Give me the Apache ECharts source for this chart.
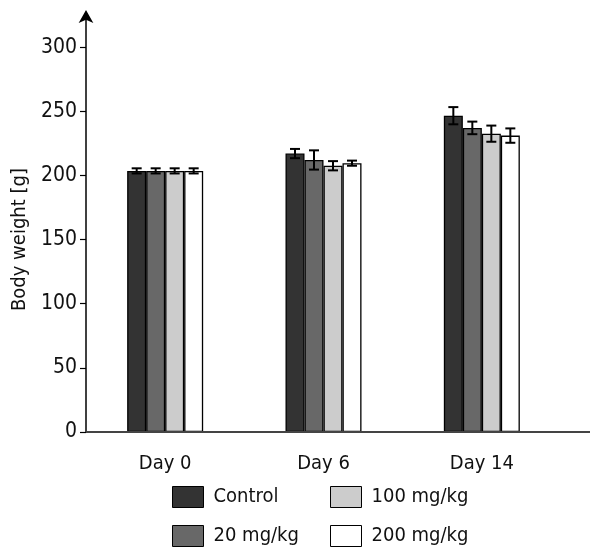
<!DOCTYPE html>
<html>
<head>
<meta charset="utf-8">
<script src="https://cdn.jsdelivr.net/npm/echarts@6/dist/echarts.min.js"></script>
<style>
html,body{margin:0;padding:0;background:#fff;}
#chart{width:590px;height:549px;}
</style>
</head>
<body>
<div id="chart"></div>
<script>
const categories = ['Day 0', 'Day 6', 'Day 14'];
const seriesNames = ['Control', '20 mg/kg', '100 mg/kg', '200 mg/kg'];
const controlMean = [203.5, 217, 246.5];
const controlErr = [2, 3.6, 6.7];
const mg20Mean = [203.5, 212, 237];
const mg20Err = [2, 7.5, 4.9];
const mg100Mean = [203.5, 207.5, 232.5];
const mg100Err = [2, 3.6, 6.3];
const mg200Mean = [203.5, 209.5, 231];
const mg200Err = [2, 2, 5.6];
const yTicks = [0, 50, 100, 150, 200, 250, 300];

const means = [controlMean, mg20Mean, mg100Mean, mg200Mean];
const errs = [controlErr, mg20Err, mg100Err, mg200Err];
const colors = ['#333333', '#686868', '#cccccc', '#ffffff'];
const FONT = "'DejaVu Sans Condensed', 'Liberation Sans Narrow', 'Roboto', sans-serif";
const BAR_W = 19;

const chart = echarts.init(document.getElementById('chart'), null, {renderer: 'canvas'});

const barSeries = seriesNames.map((name, i) => ({
  name: name,
  type: 'bar',
  barWidth: BAR_W,
  barGap: '0%',
  data: means[i],
  itemStyle: {color: colors[i], borderColor: '#000', borderWidth: 1.3},
  emphasis: {disabled: true},
  z: 2
}));

const errSeries = seriesNames.map((name, i) => ({
  type: 'custom',
  name: name + ' err',
  data: means[i].map((m, k) => [k, m, errs[i][k]]),
  encode: {x: 0, y: 1},
  z: 5,
  silent: true,
  renderItem: function (params, api) {
    const k = api.value(0), m = api.value(1), e = api.value(2);
    const off = (i - 1.5) * BAR_W;
    const top = api.coord([k, m + e]);
    const bot = api.coord([k, m - e]);
    const x = top[0] + off;
    const half = 5;
    const st = {stroke: '#000', lineWidth: 2};
    return {
      type: 'group',
      children: [
        {type: 'line', shape: {x1: x, y1: top[1], x2: x, y2: bot[1]}, style: st},
        {type: 'line', shape: {x1: x - half, y1: top[1], x2: x + half, y2: top[1]}, style: st},
        {type: 'line', shape: {x1: x - half, y1: bot[1], x2: x + half, y2: bot[1]}, style: st}
      ]
    };
  }
}));

function legendItem(name, left, top) {
  return {
    orient: 'horizontal',
    left: left,
    top: top,
    padding: 0,
    itemWidth: 31,
    itemHeight: 21,
    icon: 'rect',
    selectedMode: false,
    data: [name],
    textStyle: {fontFamily: FONT, fontSize: 20, color: '#111', padding: [0, 0, 0, 5]},
    itemStyle: {borderColor: '#000', borderWidth: 1}
  };
}

chart.setOption({
  animation: false,
  backgroundColor: '#fff',
  grid: {left: 86, top: 16, width: 475, bottom: 117, containLabel: false},
  legend: [
    legendItem('Control', 172, 486),
    legendItem('20 mg/kg', 172, 525),
    legendItem('100 mg/kg', 330, 486),
    legendItem('200 mg/kg', 330, 525)
  ],
  xAxis: {
    type: 'category',
    data: categories,
    axisLine: {show: false},
    axisTick: {show: false},
    axisLabel: {fontFamily: FONT, fontSize: 20, color: '#111', margin: 22}
  },
  yAxis: {
    type: 'value',
    min: 0,
    max: 324.2,
    splitLine: {show: false},
    axisLine: {show: true, lineStyle: {color: '#000', width: 1.5}, symbol: ['none', 'arrow'], symbolSize: [11, 13], symbolOffset: [0, 6]},
    axisTick: {show: true, length: 6, lineStyle: {color: '#000', width: 1.2}, customValues: yTicks},
    axisLabel: {fontFamily: FONT, fontSize: 21, color: '#111', margin: 9, customValues: yTicks}
  },
  series: barSeries.concat(errSeries)
});

const p0 = chart.convertToPixel({gridIndex: 0}, [0, 0]);
const p300 = chart.convertToPixel({gridIndex: 0}, [0, 300]);
chart.setOption({
  graphic: [{
    type: 'line',
    shape: {x1: 86, y1: p0[1], x2: 590, y2: p0[1]},
    style: {stroke: '#444', lineWidth: 2},
    z: 10
  }, {
    type: 'text',
    x: 20,
    y: (p0[1] + p300[1]) / 2,
    rotation: Math.PI / 2,
    style: {text: 'Body weight [g]', fontFamily: FONT, fontSize: 20, fill: '#111', align: 'center', verticalAlign: 'middle'},
    z: 10
  }]
});
</script>
</body>
</html>
